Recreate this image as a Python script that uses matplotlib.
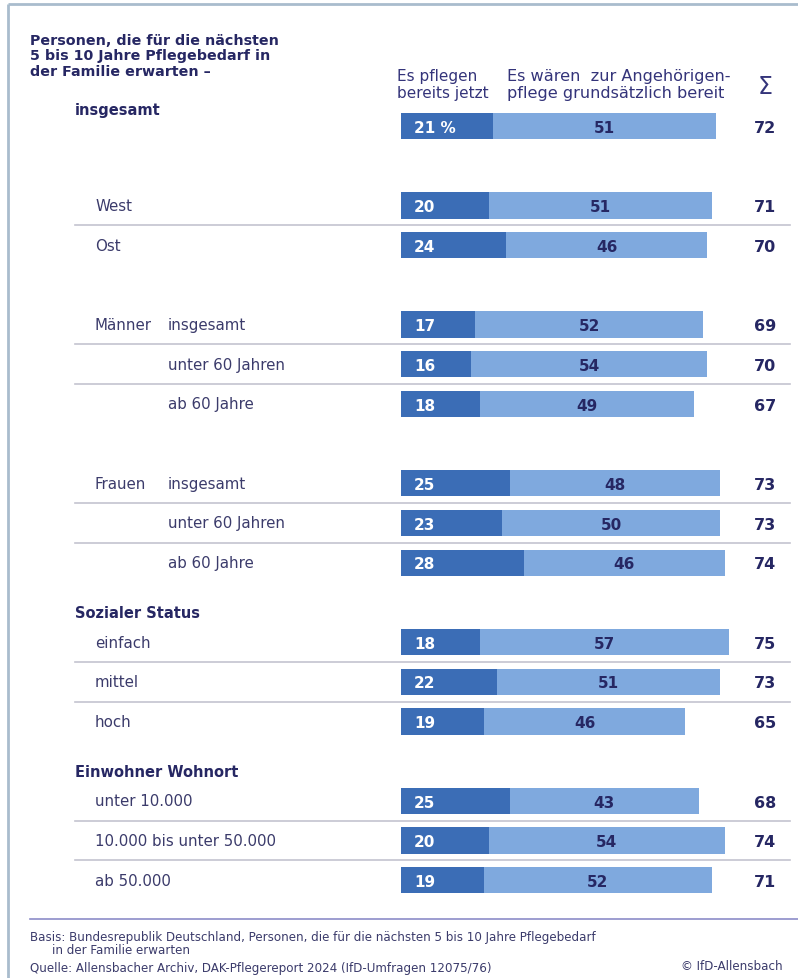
import matplotlib
matplotlib.use("Agg")
import matplotlib.pyplot as plt
from matplotlib.transforms import blended_transform_factory

plt.rcParams['font.family'] = ['DejaVu Sans']

# ---------------- data ----------------
main_labels = ["", "West", "Ost", "Männer", "", "", "Frauen", "", "",
               "einfach", "mittel", "hoch",
               "unter 10.000", "10.000 bis unter 50.000", "ab 50.000"]
sub_labels = ["", "", "", "insgesamt", "unter 60 Jahren", "ab 60 Jahre",
              "insgesamt", "unter 60 Jahren", "ab 60 Jahre",
              "", "", "", "", "", ""]
pflegen = [21, 20, 24, 17, 16, 18, 25, 23, 28, 18, 22, 19, 25, 20, 19]
bereit = [51, 51, 46, 52, 54, 49, 48, 50, 46, 57, 51, 46, 43, 54, 52]
summe = [72, 71, 70, 69, 70, 67, 73, 73, 74, 75, 73, 65, 68, 74, 71]
slots = [0, 2, 3, 5, 6, 7, 9, 10, 11, 13, 14, 15, 17, 18, 19]
group_headers = ["insgesamt", "Sozialer Status", "Einwohner Wohnort"]
group_header_slots = [-0.42, 12.25, 16.25]
sep_after = [1, 3, 4, 6, 7, 9, 10, 12, 13]  # index of rows followed by a separator

title = "Personen, die für die nächsten\n5 bis 10 Jahre Pflegebedarf in\nder Familie erwarten –"
col1 = "Es pflegen\nbereits jetzt"
col2 = "Es wären  zur Angehörigen-\npflege grundsätzlich bereit"
basis = "Basis: Bundesrepublik Deutschland, Personen, die für die nächsten 5 bis 10 Jahre Pflegebedarf"
basis2 = "in der Familie erwarten"
quelle = "Quelle: Allensbacher Archiv, DAK-Pflegereport 2024 (IfD-Umfragen 12075/76)"
copy = "© IfD-Allensbach"

# ---------------- style ----------------
W, H = 798, 979
DARK = "#3b6db6"
LIGHT = "#7fa9de"
NAVY = "#262763"
LAB = "#3b3b6b"
SEP = "#c3c3cf"

row0_px = 127.0
slot_px = 39.7
bar_left_px = 401
px_per_unit = 4.375
xmax_units = 90

fig = plt.figure(figsize=(W / 100, H / 100), dpi=100)
fig.patch.set_facecolor("white")

ax0 = fig.add_axes([0, 0, 1, 1])
ax0.set_xlim(0, W)
ax0.set_ylim(H, 0)
ax0.axis("off")

slot_top = (0 - row0_px) / slot_px
slot_bot = (H - row0_px) / slot_px
axb = fig.add_axes([bar_left_px / W, 0, xmax_units * px_per_unit / W, 1])
axb.set_xlim(0, xmax_units)
axb.set_ylim(slot_bot, slot_top)
axb.axis("off")
axb.patch.set_alpha(0)

tr = blended_transform_factory(ax0.transData, axb.transData)

# frame
ax0.plot([8, W], [5, 5], color="#a9bccd", lw=2, solid_capstyle="butt")
ax0.plot([8, 8], [5, H], color="#a9bccd", lw=2, solid_capstyle="butt")

# title
ax0.text(30, 34, title, fontsize=10.3, fontweight="bold", color=NAVY,
         va="top", ha="left", linespacing=1.12)

# column headers
ax0.text(397, 85, col1, fontsize=11, color="#34347a", va="center", ha="left", linespacing=1.2)
ax0.text(507, 85, col2, fontsize=11.6, color="#34347a", va="center", ha="left", linespacing=1.13)
ax0.text(765, 87, "Σ", fontsize=17, color="#34347a", va="center", ha="center")

# bars
bh = 0.66
axb.barh(slots, pflegen, height=bh, color=DARK, edgecolor="none")
axb.barh(slots, bereit, left=pflegen, height=bh, color=LIGHT, edgecolor="none")

for i, (s, p, b, t) in enumerate(zip(slots, pflegen, bereit, summe)):
    lbl = f"{p} %" if i == 0 else f"{p}"
    axb.text(3.0, s + 0.03, lbl, color="white", fontsize=11, fontweight="bold",
             va="center", ha="left")
    axb.text(p + b / 2, s + 0.03, f"{b}", color=NAVY, fontsize=11, fontweight="bold",
             va="center", ha="center")
    ax0.text(776, s + 0.03, f"{t}", transform=tr, color=NAVY, fontsize=11.5,
             fontweight="bold", va="center", ha="right")

# row labels
for s, m, sub in zip(slots, main_labels, sub_labels):
    if m:
        ax0.text(95, s, m, transform=tr, fontsize=10.8, color=LAB, va="center", ha="left")
    if sub:
        ax0.text(168, s, sub, transform=tr, fontsize=10.8, color=LAB, va="center", ha="left")

for g, s in zip(group_headers, group_header_slots):
    ax0.text(75, s, g, transform=tr, fontsize=10.5, fontweight="bold", color=NAVY,
             va="center", ha="left")

# separators
for i in sep_after:
    ymid = (slots[i] + slots[i + 1]) / 2
    ax0.plot([75, 790], [ymid, ymid], transform=tr, color=SEP, lw=1.2)

# bottom rule
ax0.plot([30, W], [920, 920], color="#8c8cc8", lw=1.2)

# footnotes
ax0.text(30, 938, basis, fontsize=8.6, color=LAB, va="center", ha="left")
ax0.text(52, 951, basis2, fontsize=8.6, color=LAB, va="center", ha="left")
ax0.text(30, 969, quelle, fontsize=8.6, color=LAB, va="center", ha="left")
ax0.text(783, 967, copy, fontsize=8.6, color=LAB, va="center", ha="right")

fig.savefig("out.png", dpi=100, facecolor="white")
